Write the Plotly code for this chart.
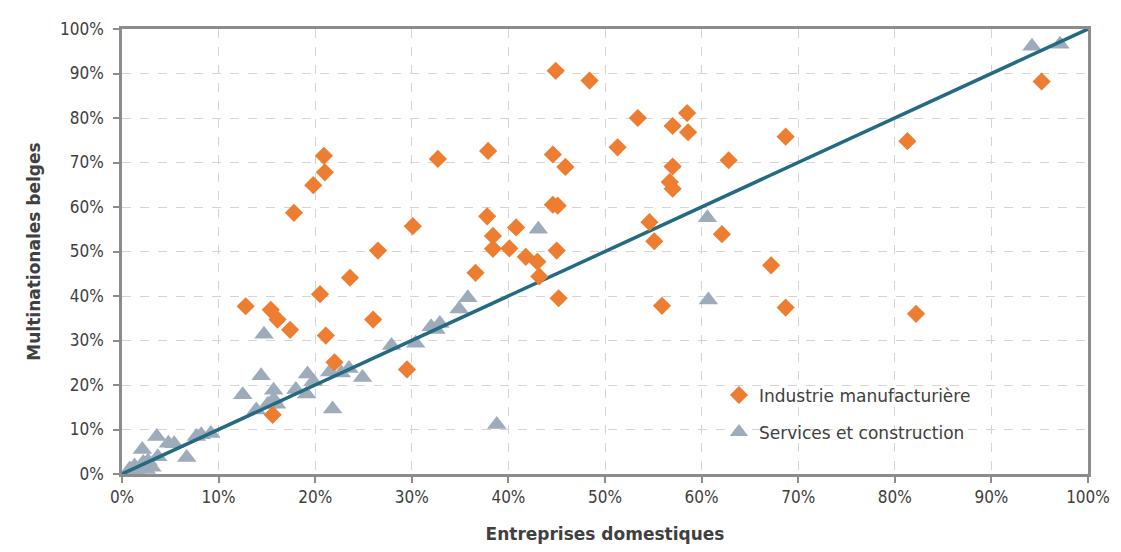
import plotly.graph_objects as go

# Industrie manufacturière (x: entreprises domestiques %, y: multinationales belges %)
ind_x = [44.9, 48.4, 53.4, 58.5, 57.0, 58.6, 51.3, 32.7, 37.9, 44.6, 45.9, 57.0, 62.8, 56.7, 57.0,
         44.6, 45.1, 37.8, 30.1, 40.8, 38.4, 54.6, 55.1, 62.1, 38.4, 40.1, 41.8, 43.0, 45.0, 36.6,
         43.2, 20.9, 21.0, 19.8, 17.8, 26.5, 23.6, 95.2, 68.7, 81.3, 67.2, 45.2, 55.9, 68.7, 82.2,
         20.5, 26.0, 21.1, 22.0, 29.5, 12.8, 15.4, 16.1, 17.4, 15.6]
ind_y = [90.6, 88.4, 80.0, 81.1, 78.2, 76.8, 73.4, 70.8, 72.6, 71.8, 69.0, 69.1, 70.5, 65.6, 64.1,
         60.5, 60.3, 57.9, 55.7, 55.4, 53.5, 56.6, 52.3, 53.9, 50.6, 50.7, 48.8, 47.7, 50.2, 45.2,
         44.4, 71.5, 67.8, 64.9, 58.7, 50.2, 44.1, 88.2, 75.8, 74.8, 46.9, 39.5, 37.8, 37.4, 36.0,
         40.4, 34.7, 31.1, 25.1, 23.5, 37.7, 36.9, 34.7, 32.4, 13.3]

# Services et construction
srv_x = [43.1, 60.6, 94.2, 97.1, 60.7, 35.8, 34.9, 32.0, 32.9, 32.5, 27.9, 30.4, 19.2, 19.8, 19.1,
         21.5, 22.7, 23.5, 24.9, 21.8, 38.8, 14.7, 14.4, 12.5, 13.9, 15.7, 15.7, 15.1, 16.0, 18.0,
         3.6, 2.1, 4.8, 5.4, 3.7, 6.7, 7.7, 8.2, 9.2, 2.7, 2.2, 1.3, 0.8, 3.1, 1.5, 0.7, 2.5]
srv_y = [55.0, 57.6, 96.1, 96.6, 39.1, 39.6, 37.1, 33.1, 33.8, 32.5, 28.9, 29.4, 22.5, 20.8, 18.0,
         22.9, 22.7, 23.7, 21.7, 14.6, 11.1, 31.4, 22.1, 17.8, 14.4, 18.8, 16.8, 15.7, 15.7, 19.0,
         8.4, 5.5, 6.9, 6.8, 3.9, 3.7, 8.4, 8.8, 9.1, 2.9, 2.6, 1.8, 1.1, 1.5, 0.7, 0.2, 1.0]

diag = [0, 100]
ticks = list(range(0, 101, 10))
tick_text = [f"{t}%" for t in ticks]

fig = go.Figure()
fig.add_trace(go.Scatter(
    x=srv_x, y=srv_y, mode="markers", name="Services et construction",
    marker=dict(symbol="triangle-up", size=17, color="#9DABBA"),
    legendrank=2, legendgroup="srv",
))
fig.add_trace(go.Scatter(
    x=diag, y=diag, mode="lines", showlegend=False,
    line=dict(color="#236A82", width=3.5),
))
fig.add_trace(go.Scatter(
    x=ind_x, y=ind_y, mode="markers", name="Industrie manufacturière",
    marker=dict(symbol="diamond", size=14, color="#ED7D31"),
    legendrank=1, legendgroup="ind",
))

axis_common = dict(
    range=[0, 100], tickvals=ticks, ticktext=tick_text,
    showline=True, linecolor="#8C8C8C", linewidth=2.5, mirror=True,
    showgrid=True, gridcolor="#D4D4D4", griddash="dash", gridwidth=1,
    ticks="outside", ticklen=6, tickcolor="#8C8C8C", tickwidth=1.5,
    tickfont=dict(family="DejaVu Sans Condensed", size=17, color="#404040"),
    zeroline=False, fixedrange=True,
)

fig.update_layout(
    width=1113, height=544,
    margin=dict(l=114, r=31, t=11, b=77),
    plot_bgcolor="white", paper_bgcolor="white",
    xaxis=dict(**axis_common,
               title=dict(text="<b>Entreprises domestiques</b>", standoff=22,
                          font=dict(family="DejaVu Sans", size=17, color="#404040"))),
    yaxis=dict(**axis_common, ticklabelstandoff=6,
               title=dict(text="<b>Multinationales belges</b>", standoff=16,
                          font=dict(family="DejaVu Sans", size=17, color="#404040"))),
    legend=dict(x=0.618, y=0.217, xanchor="left", yanchor="top",
                bgcolor="rgba(0,0,0,0)", tracegroupgap=12, traceorder="grouped",
                font=dict(family="DejaVu Sans", size=17, color="#404040")),
    showlegend=True,
)

fig.write_html("out.html")
